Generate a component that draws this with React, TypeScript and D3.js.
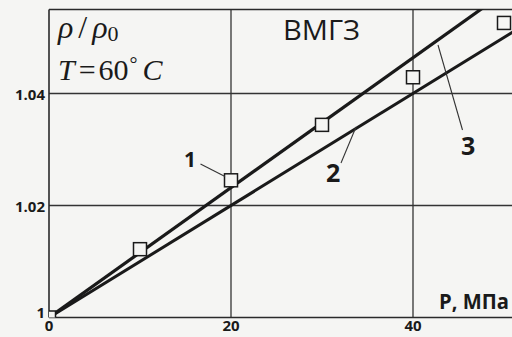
import React from 'react'
import * as d3 from 'd3'

// experimental points (curve 1), P in MPa
const pressure = [0, 10, 20, 30, 40, 50]
const density = [1.0, 1.0122, 1.0245, 1.0344, 1.0429, 1.0526]

// calculated lines 2 and 3, given by end points
const linePressure = [0, 52]
const line2 = [1.0, 1.052]
const line3 = [1.0, 1.0603]

const xTicks = [0, 20, 40]
const yTicks = [1.0, 1.02, 1.04]
const yTickLabels = ['1', '1.02', '1.04']

const W = 512
const H = 337
const left = 49
const top = 9.5
const bottom = 317.5

const ink = '#1a1a1a'
const sans = '"Open Sans", "DejaVu Sans", sans-serif'
const serif = '"Liberation Serif", "DejaVu Serif", serif'

export default function App() {
  const x = d3.scaleLinear().domain([0, 51]).range([left, left + 51 * 9.1])
  const y = d3.scaleLinear().domain([1.0, 1.055]).range([bottom, top])

  const line = d3.line<[number, number]>().x(d => x(d[0])).y(d => y(d[1]))
  const pts2: [number, number][] = linePressure.map((p, i) => [p, line2[i]])
  const pts3: [number, number][] = linePressure.map((p, i) => [p, line3[i]])

  const sq = 13

  return (
    <svg width={W} height={H} style={{ position: 'absolute', left: 0, top: 0, background: '#f5f5f3' }}>
      <defs>
        <clipPath id="plot">
          <rect x={left} y={top} width={W - left} height={bottom - top} />
        </clipPath>
      </defs>

      {/* grid */}
      <g stroke="#333" strokeWidth={1.3}>
        {xTicks.filter(v => v > 0).map(v => (
          <line key={'gx' + v} x1={x(v)} x2={x(v)} y1={top} y2={bottom} />
        ))}
        {yTicks.filter(v => v > 1).map(v => (
          <line key={'gy' + v} x1={left} x2={W} y1={y(v)} y2={y(v)} />
        ))}
      </g>
      {/* frame */}
      <g stroke="#2a2a2a" strokeWidth={1.6}>
        <line x1={left} x2={left} y1={top} y2={bottom} />
        <line x1={left} x2={W} y1={top} y2={top} />
        <line x1={left} x2={W} y1={bottom} y2={bottom} />
      </g>

      <g clipPath="url(#plot)">
        <path d={line(pts2) || ''} fill="none" stroke={ink} strokeWidth={3} />
        <path d={line(pts3) || ''} fill="none" stroke={ink} strokeWidth={3.2} />
        {pressure.map((p, i) => (
          <rect key={'s' + i} x={x(p) - sq / 2} y={y(density[i]) - sq / 2} width={sq} height={sq}
            fill="#f5f5f3" stroke={ink} strokeWidth={1.5} />
        ))}
      </g>

      {/* tick labels */}
      <g fontFamily={sans} fontWeight="bold" fontSize={15} fill={ink}>
        {yTicks.map((v, i) => (
          <text key={'ty' + v} x={45} y={v === 1 ? y(v) + 0.5 : y(v) + 6.5} textAnchor="end">{yTickLabels[i]}</text>
        ))}
        {xTicks.map(v => (
          <text key={'tx' + v} x={x(v)} y={331} textAnchor="middle">{v}</text>
        ))}
      </g>

      {/* annotations */}
      <text x={58} y={38} fontFamily={serif} fontSize={32} fill={ink}>
        <tspan fontStyle="italic">ρ</tspan>
        <tspan dx={5}>/</tspan>
        <tspan dx={5} fontStyle="italic">ρ</tspan>
        <tspan fontSize={22} dy={3}>0</tspan>
      </text>
      <text x={58} y={80} fontFamily={serif} fontSize={30} fill={ink}>
        <tspan fontStyle="italic">T</tspan>
        <tspan dx={4}>=</tspan>
        <tspan dx={3}>60</tspan>
        <tspan fontSize={20} dy={-9} dx={1}>°</tspan>
        <tspan dy={9} dx={5} fontStyle="italic">C</tspan>
      </text>
      <text x={283} y={39.5} fontFamily={sans} fontSize={27} fill={ink} textLength={77} lengthAdjust="spacingAndGlyphs">ВМГЗ</text>
      <text x={439} y={308.5} fontFamily={sans} fontWeight="bold" fontSize={21} fill={ink} textLength={70} lengthAdjust="spacingAndGlyphs">P, МПа</text>

      <g fontFamily={sans} fontWeight="bold" fill={ink}>
        <text x={184} y={167} fontSize={21}>1</text>
        <text x={326} y={182} fontSize={25}>2</text>
        <text x={461} y={155} fontSize={25}>3</text>
      </g>
      <g stroke="#333" strokeWidth={1.1}>
        <line x1={200.5} y1={164} x2={225} y2={176.5} />
        <line x1={341} y1={163} x2={356} y2={127} />
        <line x1={462.5} y1={130} x2={438} y2={45} />
      </g>
    </svg>
  )
}
